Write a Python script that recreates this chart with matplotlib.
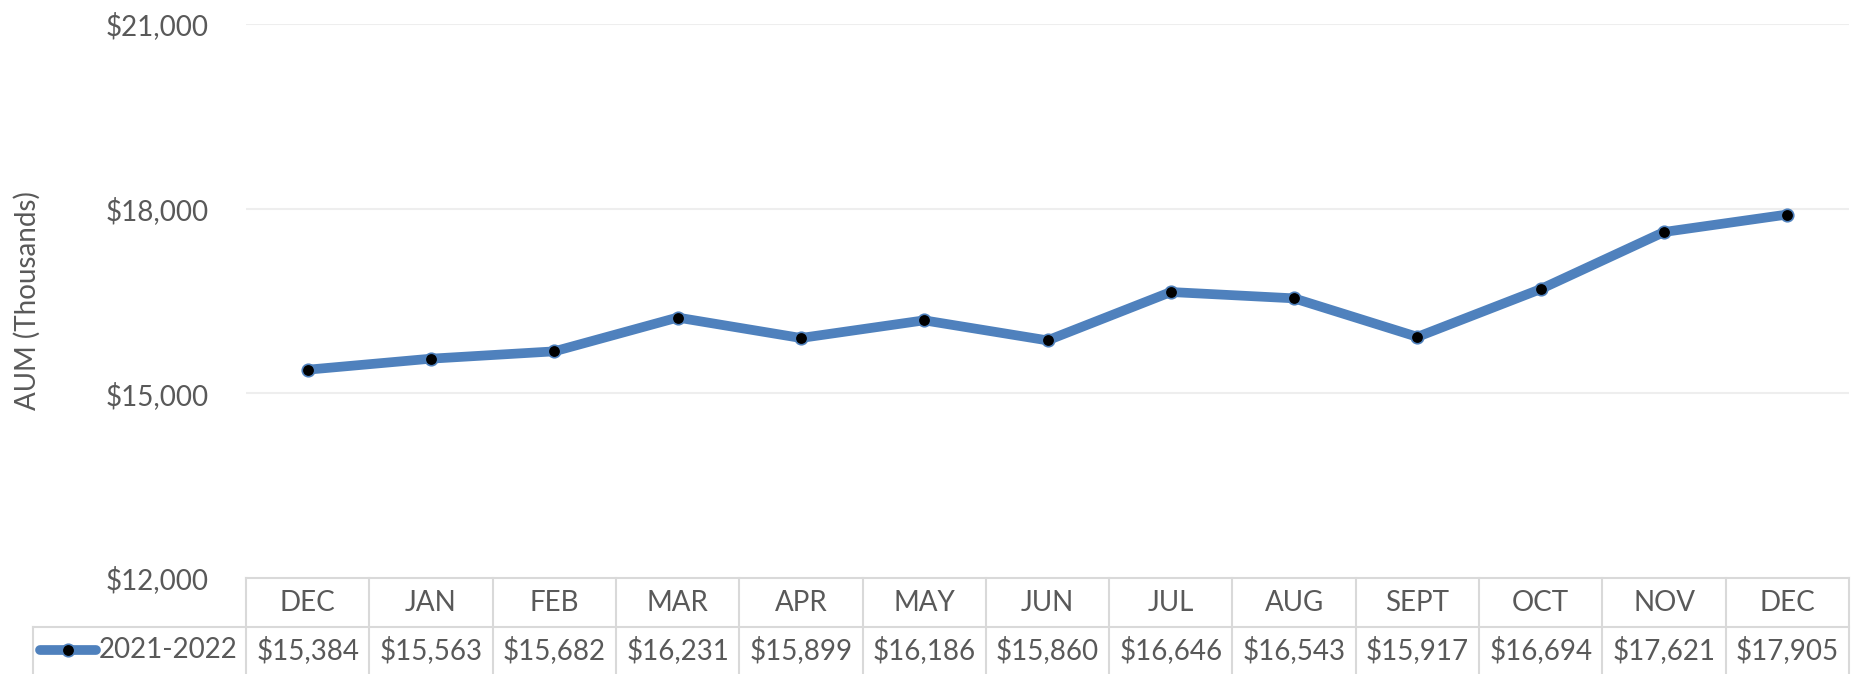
import matplotlib
matplotlib.use("Agg")
import matplotlib.pyplot as plt
from matplotlib.transforms import blended_transform_factory

months = ["DEC", "JAN", "FEB", "MAR", "APR", "MAY", "JUN", "JUL", "AUG", "SEPT", "OCT", "NOV", "DEC"]
aum = [15384, 15563, 15682, 16231, 15899, 16186, 15860, 16646, 16543, 15917, 16694, 17621, 17905]
series_name = "2021-2022"
yticks = [12000, 15000, 18000, 21000]

plt.rcParams['font.family'] = ['Lato', 'DejaVu Sans']
W, H = 1856, 674
fig = plt.figure(figsize=(W / 100, H / 100), dpi=100)
L, R, T, B = 246, 1849, 24, 578
ax = fig.add_axes([L / W, 1 - B / H, (R - L) / W, (B - T) / H])

blue = "#4F81BD"
grey_txt = "#595959"
grid_c = "#EEEEEE"
tbl_c = "#D9D9D9"
fs = 20

x = list(range(len(months)))
ax.plot(x, aum, color=blue, lw=7, solid_capstyle='round', zorder=3,
        marker='o', markersize=9, markerfacecolor='black', markeredgecolor=blue, markeredgewidth=1.2)
ax.set_xlim(-0.5, len(months) - 0.5)
ax.set_ylim(12000, 21000)
ax.set_yticks(yticks)
ax.set_yticklabels([f"${v:,}" for v in yticks], fontsize=fs, color=grey_txt)
ax.tick_params(axis='y', length=0, pad=27)
ax.set_xticks([])
for s in ax.spines.values():
    s.set_visible(False)
for v in yticks[1:]:
    ax.axhline(v, color=grid_c, lw=1.5, zorder=1)
ax.set_ylabel("AUM (Thousands)", fontsize=fs, color=grey_txt)
ax.yaxis.set_label_coords(-(L - 41) / (R - L), 0.5)

# data table
ah = B - T
trans = blended_transform_factory(ax.transData, ax.transAxes)
y_hdr = -(627 - B) / ah
y_bot = -(H - B + 2) / ah
kw = dict(color=tbl_c, lw=1.5, clip_on=False, zorder=2)
ax.plot([-0.5, len(months) - 0.5], [0, 0], transform=trans, **kw)
px = (R - L) / len(months)
def dx(p):
    return -0.5 + (p - L) / px
x_left = dx(33)
ax.plot([x_left, len(months) - 0.5], [y_hdr, y_hdr], transform=trans, **kw)
ax.plot([x_left, x_left], [y_hdr, y_bot], transform=trans, **kw)
for k in range(len(months) + 1):
    ax.plot([k - 0.5, k - 0.5], [0, y_bot], transform=trans, **kw)
y_h_txt = -(603 - B) / ah
y_v_txt = -(650 - B) / ah
for i, m in enumerate(months):
    ax.text(i, y_h_txt, m, transform=trans, ha='center', va='center', fontsize=fs, color=grey_txt)
    ax.text(i, y_v_txt, f"${aum[i]:,}", transform=trans, ha='center', va='center', fontsize=fs, color=grey_txt)
# legend key
ax.plot([dx(40), dx(96)], [y_v_txt, y_v_txt], transform=trans, color=blue, lw=7,
        solid_capstyle='round', clip_on=False, zorder=3)
ax.plot([dx(68)], [y_v_txt], transform=trans, marker='o', markersize=9, markerfacecolor='black',
        markeredgecolor=blue, markeredgewidth=1.2, clip_on=False, zorder=4)
ax.text(dx(99), y_v_txt, series_name, transform=trans, ha='left', va='center', fontsize=fs, color=grey_txt)

fig.savefig("out.png", dpi=100)
